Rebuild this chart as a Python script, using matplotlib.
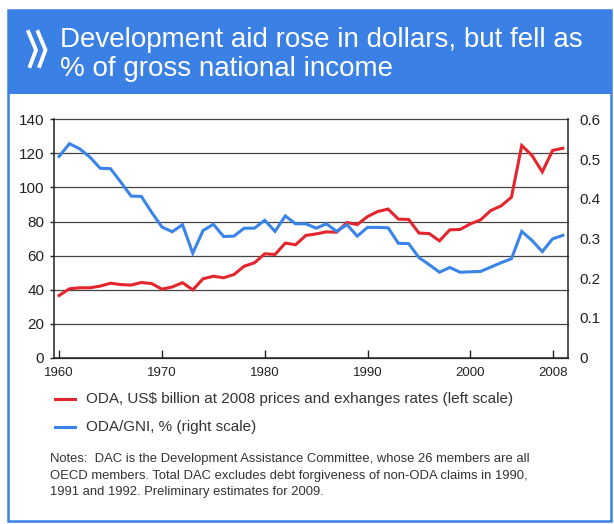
import matplotlib
matplotlib.use("Agg")
import matplotlib.pyplot as plt
from matplotlib.lines import Line2D
from matplotlib.patches import Rectangle

plt.rcParams['font.family'] = ['Liberation Sans', 'DejaVu Sans']

years = list(range(1960, 2010))

# ODA, US$ billion at 2008 prices and exchange rates
oda_usd = [36.5, 40.4, 41.0, 41.0, 42.0, 43.7, 42.9, 42.6, 44.1, 43.5,
           40.2, 41.5, 44.0, 39.8, 46.3, 47.8, 46.9, 48.8, 53.7, 55.7,
           61.0, 60.6, 67.3, 66.3, 71.8, 72.7, 73.9, 73.7, 79.4, 78.2,
           82.9, 85.9, 87.3, 81.4, 81.2, 73.2, 72.9, 68.6, 75.1, 75.3,
           78.6, 81.0, 86.5, 89.2, 94.3, 124.7, 118.8, 109.2, 121.8, 123.1]

# ODA as % of gross national income
oda_gni = [0.507, 0.539, 0.526, 0.505, 0.477, 0.476, 0.442, 0.407, 0.406, 0.366,
           0.329, 0.317, 0.335, 0.263, 0.320, 0.336, 0.305, 0.306, 0.326, 0.326,
           0.346, 0.318, 0.357, 0.337, 0.337, 0.326, 0.337, 0.318, 0.335, 0.306,
           0.328, 0.328, 0.327, 0.288, 0.287, 0.252, 0.234, 0.215, 0.227, 0.215,
           0.216, 0.217, 0.228, 0.239, 0.249, 0.318, 0.295, 0.267, 0.299, 0.308]

tick_years = [1960, 1970, 1980, 1990, 2000, 2008]
left_ticks = [0, 20, 40, 60, 80, 100, 120, 140]
right_ticks = [0, 0.1, 0.2, 0.3, 0.4, 0.5, 0.6]

title_lines = ["Development aid rose in dollars, but fell as",
               "% of gross national income"]
legend_labels = ["ODA, US$ billion at 2008 prices and exhanges rates (left scale)",
                 "ODA/GNI, % (right scale)"]
notes_lines = ["Notes:  DAC is the Development Assistance Committee, whose 26 members are all",
               "OECD members. Total DAC excludes debt forgiveness of non-ODA claims in 1990,",
               "1991 and 1992. Preliminary estimates for 2009."]

RED = "#e3262d"
BLUE = "#3a84e8"
FRAME = "#3b80e4"
TEXT = "#333333"

W, H = 614, 524
fig = plt.figure(figsize=(W / 100, H / 100), dpi=100)


def fx(x):
    return x / W


def fy(y):
    return 1 - y / H


# outer frame and header band
fig.patches.append(Rectangle((fx(8), fy(521)), fx(603), 511 / H, transform=fig.transFigure,
                             facecolor="none", edgecolor=FRAME, linewidth=1.8, zorder=0))
fig.patches.append(Rectangle((fx(8), fy(94)), fx(603), 84 / H, transform=fig.transFigure,
                             facecolor=FRAME, edgecolor="none", zorder=1))

# double chevron
for dx in (0, 9.5):
    fig.lines.append(Line2D([fx(28.5 + dx), fx(36 + dx), fx(30 + dx)],
                            [fy(32), fy(50), fy(66)], transform=fig.transFigure,
                            color="white", linewidth=2.8, solid_joinstyle="miter", zorder=2))

fig.text(fx(60), fy(47), title_lines[0], color="white", fontsize=20, va="baseline", zorder=3)
fig.text(fx(60), fy(76), title_lines[1], color="white", fontsize=20, va="baseline", zorder=3)

ax = fig.add_axes([fx(54), fy(357.5), fx(568) - fx(54), (357.5 - 119.5) / H])
ax.set_zorder(2)
ax2 = ax.twinx()
ax2.set_zorder(3)
ax2.patch.set_visible(False)

ax.plot(years, oda_usd, color=RED, linewidth=2.2, solid_joinstyle="miter")
ax2.plot(years, oda_gni, color=BLUE, linewidth=2.2, solid_joinstyle="miter")

ax.set_xlim(1959.5, 2009.5)
ax.set_ylim(0, 140)
ax2.set_ylim(0, 0.6)

ax.set_yticks(left_ticks)
ax.set_yticklabels([str(t) for t in left_ticks])
ax2.set_yticks(right_ticks)
ax2.set_yticklabels(["0" if t == 0 else f"{t:.1f}" for t in right_ticks])
ax.set_xticks(tick_years)
ax.set_xticklabels([str(y) for y in tick_years])

ax.grid(axis="y", color="#444444", linewidth=0.9)
ax.set_axisbelow(True)
for gl in ax.get_ygridlines():
    gl.set_clip_on(False)

for a in (ax, ax2):
    a.spines["top"].set_visible(False)
    for s in a.spines.values():
        s.set_color("#222222")
        s.set_linewidth(1.1)
ax.spines["right"].set_visible(False)
ax2.spines["left"].set_visible(False)
ax2.spines["bottom"].set_visible(False)

ax.tick_params(axis="y", direction="out", length=3, width=1, color="#222222",
               labelsize=11, labelcolor="#222222", pad=4)
ax2.tick_params(axis="y", direction="out", length=0, labelsize=11,
                labelcolor="#222222", pad=8)
ax.tick_params(axis="x", direction="in", length=6, width=1, color="#222222",
               labelsize=9.5, labelcolor="#222222", pad=7)

# legend drawn by hand
for y, color, label in ((399, RED, legend_labels[0]), (427, BLUE, legend_labels[1])):
    fig.lines.append(Line2D([fx(55), fx(75)], [fy(y), fy(y)], transform=fig.transFigure,
                            color=color, linewidth=2.2))
    fig.text(fx(85.5), fy(y), label, color=TEXT, fontsize=11, va="center")

for i, line in enumerate(notes_lines):
    fig.text(fx(50), fy(459 + i * 16.5), line, color=TEXT, fontsize=9.4, va="center")

fig.savefig("out.png", dpi=100)
